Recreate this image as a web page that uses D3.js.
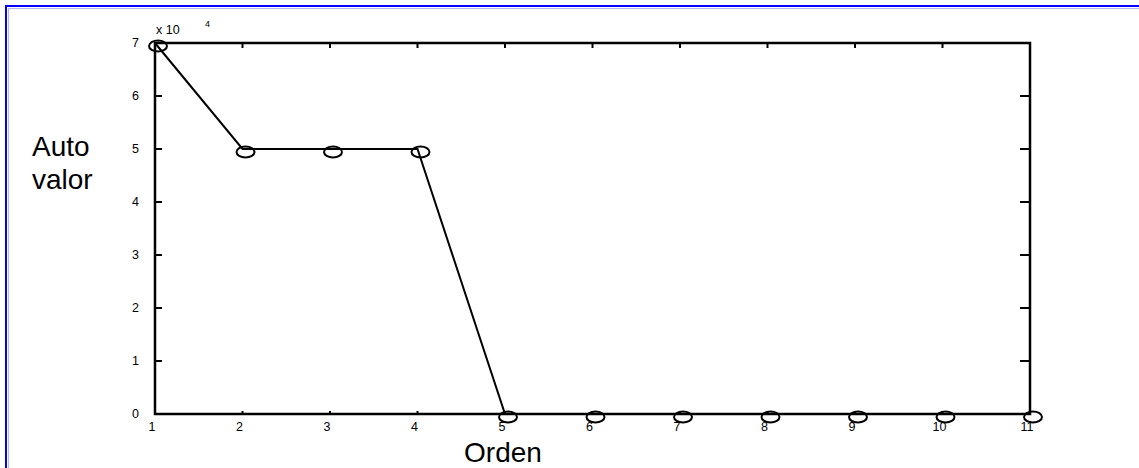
<!DOCTYPE html>
<html>
<head>
<meta charset="utf-8">
<script src="https://cdn.jsdelivr.net/npm/d3@7/dist/d3.min.js"></script>
<style>
  html, body { margin: 0; padding: 0; background: #fff; }
  svg { display: block; }
  text { font-family: "Liberation Sans", Arial, sans-serif; fill: #000; }
</style>
</head>
<body>
<svg id="chart" width="1139" height="468"></svg>
<script>
// Eigenvalue by order (values in units of 10^4)
const orden = [1, 2, 3, 4, 5, 6, 7, 8, 9, 10, 11];
const autovalor = [7, 5, 5, 5, 0, 0, 0, 0, 0, 0, 0];
const xTicks = [1, 2, 3, 4, 5, 6, 7, 8, 9, 10, 11];
const yTicks = [0, 1, 2, 3, 4, 5, 6, 7];

const svg = d3.select("#chart");
const W = 1139, H = 468;
const plot = { left: 155, right: 1030, top: 43, bottom: 414 };

// Blue page frame (top and left edges)
svg.append("line").attr("x1", 5).attr("x2", W).attr("y1", 6).attr("y2", 6)
  .attr("stroke", "#0000ff").attr("stroke-width", 2);
svg.append("line").attr("x1", 6).attr("x2", 6).attr("y1", 5).attr("y2", H)
  .attr("stroke", "#0000ff").attr("stroke-width", 2);
svg.append("line").attr("x1", 8).attr("x2", W).attr("y1", 8.5).attr("y2", 8.5)
  .attr("stroke", "#b4b4ff").attr("stroke-width", 1);
svg.append("line").attr("x1", 8.5).attr("x2", 8.5).attr("y1", 8).attr("y2", H)
  .attr("stroke", "#b4b4ff").attr("stroke-width", 1);

const x = d3.scaleLinear().domain([1, 11]).range([plot.left, plot.right]);
const y = d3.scaleLinear().domain([0, 7]).range([plot.bottom, plot.top]);

const innerX = xTicks.filter(d => d > 1 && d < 11);
const innerY = yTicks.filter(d => d > 0 && d < 7);

// Tick marks pointing inward on all four sides
const ticks = svg.append("g").attr("stroke", "#000").attr("stroke-width", 2);
innerX.forEach(d => {
  ticks.append("line").attr("x1", x(d)).attr("x2", x(d))
    .attr("y1", plot.top).attr("y2", plot.top + 5);
  ticks.append("line").attr("x1", x(d)).attr("x2", x(d))
    .attr("y1", plot.bottom).attr("y2", plot.bottom - 3);
});
innerY.forEach(d => {
  ticks.append("line").attr("x1", plot.left).attr("x2", plot.left + 7)
    .attr("y1", y(d)).attr("y2", y(d));
  ticks.append("line").attr("x1", plot.right).attr("x2", plot.right - 10)
    .attr("y1", y(d)).attr("y2", y(d));
});

// Axes box
svg.append("rect")
  .attr("x", plot.left).attr("y", plot.top)
  .attr("width", plot.right - plot.left).attr("height", plot.bottom - plot.top)
  .attr("fill", "none").attr("stroke", "#000").attr("stroke-width", 2.5);

// Tick labels
svg.append("g").selectAll("text").data(xTicks).join("text")
  .attr("x", d => x(d) - 3).attr("y", plot.bottom + 17)
  .attr("text-anchor", "middle").attr("font-size", 12.5)
  .text(d => d);
svg.append("g").selectAll("text").data(yTicks).join("text")
  .attr("x", plot.left - 16).attr("y", d => y(d) + 4)
  .attr("text-anchor", "end").attr("font-size", 12.5)
  .text(d => d);

// Exponent label
svg.append("text").attr("x", 156).attr("y", 34).attr("font-size", 12.5).text("x 10");
svg.append("text").attr("x", 205).attr("y", 27).attr("font-size", 9).text("4");

// Eigenvalue curve
const line = d3.line().x((d, i) => x(orden[i])).y(d => y(d));
svg.append("path").datum(autovalor)
  .attr("d", line).attr("fill", "none")
  .attr("stroke", "#000").attr("stroke-width", 2);

// Circle markers
svg.append("g").selectAll("ellipse").data(autovalor).join("ellipse")
  .attr("cx", (d, i) => x(orden[i]) + 3)
  .attr("cy", d => y(d) + 3)
  .attr("rx", 9).attr("ry", 5.5)
  .attr("fill", "none").attr("stroke", "#000").attr("stroke-width", 2);

// Axis titles
svg.append("text").attr("x", 32).attr("y", 156).attr("font-size", 28).text("Auto");
svg.append("text").attr("x", 32).attr("y", 189).attr("font-size", 28).text("valor");
svg.append("text").attr("x", 503).attr("y", 462).attr("text-anchor", "middle")
  .attr("font-size", 28).text("Orden");
</script>
</body>
</html>
